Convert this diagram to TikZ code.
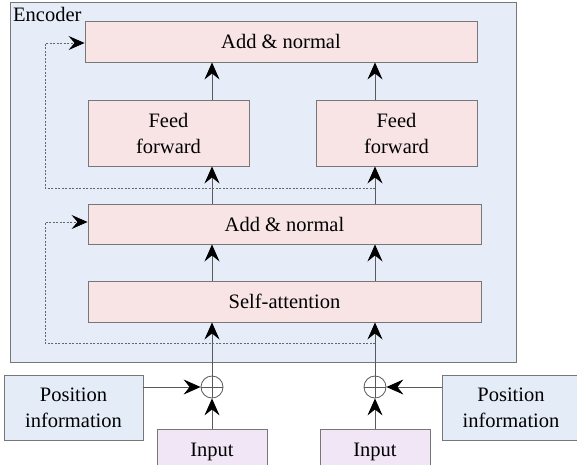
\documentclass[tikz,border=0pt]{standalone}
\usepackage{fontspec}
\setmainfont{Liberation Serif}
\usetikzlibrary{arrows.meta}
\definecolor{encbg}{HTML}{E7EDF8}
\definecolor{boxbg}{HTML}{F8E4E5}
\definecolor{posbg}{HTML}{E4ECF8}
\definecolor{inbg}{HTML}{F0E6F5}
\definecolor{edge}{HTML}{777777}
\begin{document}
\begin{tikzpicture}[x=1pt,y=-1pt,
  txt/.style={font=\rmfamily\fontsize{20.5}{26}\selectfont},
  blk/.style={draw=edge, line width=0.9pt, fill=boxbg, inner sep=0pt, align=center, txt},
  posbox/.style={blk, fill=posbg},
  inbox/.style={blk, fill=inbg},
  arr/.style={draw=black!65, line width=0.8pt, -{Stealth[length=17pt,width=15pt,inset=6pt,black]}},
  dsh/.style={draw=black!60, line width=0.7pt, dash pattern=on 2pt off 1.5pt},
  darr/.style={dsh, -{Stealth[length=16pt,width=14pt,inset=6pt,black]}},
  sumnode/.style={circle, draw=black!65, line width=0.8pt, fill=white, minimum size=22pt, inner sep=0pt,
    path picture={\draw[black!65, line width=0.8pt] (path picture bounding box.north) -- (path picture bounding box.south)
      (path picture bounding box.west) -- (path picture bounding box.east);}}
]
\useasboundingbox (0,0) rectangle (577,464);
% encoder frame
\node[draw=edge, line width=0.9pt, fill=encbg, minimum width=506pt, minimum height=360pt, inner sep=0pt] (enc) at (263,182) {};
\node[txt, anchor=base west, inner sep=0pt] (enclabel) at (13,21) {Encoder};
% blocks
\node[blk, minimum width=392pt, minimum height=41pt] (top) at (281,41.5) {Add \& normal};
\node[blk, minimum width=161pt, minimum height=66pt] (ff1) at (168.5,133) {Feed\\forward};
\node[blk, minimum width=161pt, minimum height=66pt] (ff2) at (396.5,133) {Feed\\forward};
\node[blk, minimum width=393pt, minimum height=40pt] (mid) at (284.5,224) {Add \& normal};
\node[blk, minimum width=393pt, minimum height=41pt] (sa) at (284.5,301.5) {Self-attention};
% bottom
\node[sumnode] (c1) at (212,387) {};
\node[sumnode] (c2) at (375,387) {};
\node[posbox, minimum width=139pt, minimum height=65pt] (pos1) at (73.5,407.5) {Position\\information};
\node[posbox, minimum width=138pt, minimum height=65pt] (pos2) at (511,407.5) {Position\\information};
\node[inbox, minimum width=110pt, minimum height=46pt, anchor=north] (in1) at (212,429) {Input};
\node[inbox, minimum width=110pt, minimum height=46pt, anchor=north] (in2) at (375,429) {Input};
% coordinates for dashed residuals
\coordinate (b2) at (375,343);
\coordinate (t2) at (375,188);
\coordinate (l1) at (45,343);
\coordinate (l2) at (45,222);
\coordinate (l3) at (45,188);
\coordinate (l4) at (45,43);
% arrows
\draw[arr] (in1.north) -- (c1.south);
\draw[arr] (in2.north) -- (c2.south);
\draw[arr] (pos1.east |- c1) -- (c1.west);
\draw[arr] (pos2.west |- c2) -- (c2.east);
\draw[arr] (c1.north) -- (sa.south -| c1);
\draw[arr] (c2.north) -- (sa.south -| c2);
\draw[arr] (sa.north -| c1) -- (mid.south -| c1);
\draw[arr] (sa.north -| c2) -- (mid.south -| c2);
\draw[arr] (mid.north -| c1) -- (ff1.south -| c1);
\draw[arr] (mid.north -| c2) -- (ff2.south -| c2);
\draw[arr] (ff1.north -| c1) -- (top.south -| c1);
\draw[arr] (ff2.north -| c2) -- (top.south -| c2);
% dashed residuals
\draw[darr] (b2) -- (l1) -- (l2) -- (mid.west |- l2);
\draw[darr] (t2) -- (l3) -- (l4) -- (top.west |- l4);
\end{tikzpicture}
\end{document}
